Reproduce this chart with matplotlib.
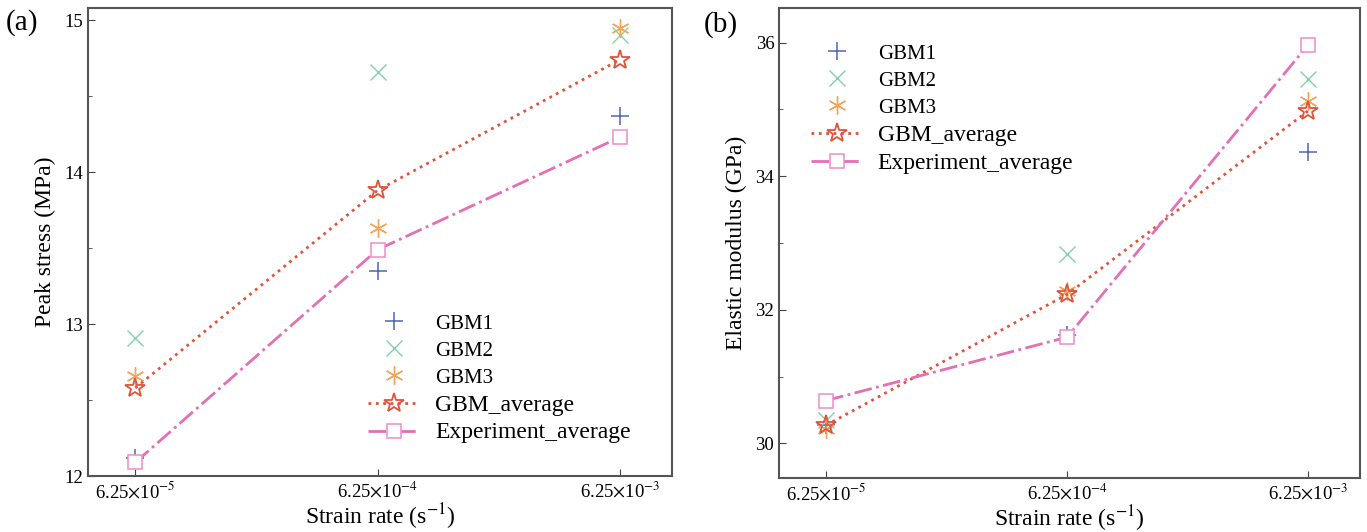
import numpy as np
import matplotlib.pyplot as plt
from matplotlib.ticker import FixedLocator, NullLocator, MultipleLocator

plt.rcParams['font.family'] = ['Liberation Serif', 'DejaVu Serif']
plt.rcParams['mathtext.fontset'] = 'stix'

# strain rates (s^-1)
rates = [6.25e-5, 6.25e-4, 6.25e-3]
rate_labels = [r'6.25$\times$10$^{-5}$', r'6.25$\times$10$^{-4}$', r'6.25$\times$10$^{-3}$']

# (a) peak stress, MPa
peak_gbm1 = [12.12, 13.35, 14.37]
peak_gbm2 = [12.91, 14.66, 14.90]
peak_gbm3 = [12.66, 13.63, 14.95]
peak_gbm_avg = [12.58, 13.88, 14.74]
peak_exp = [12.09, 13.49, 14.23]

# (b) elastic modulus, GPa
mod_gbm1 = [30.27, 31.62, 34.37]
mod_gbm2 = [30.35, 32.83, 35.46]
mod_gbm3 = [30.22, 32.28, 35.12]
mod_gbm_avg = [30.27, 32.23, 34.98]
mod_exp = [30.64, 31.59, 35.97]

c1 = '#5064b4'
c2 = '#80d2aa'
c3 = '#f5a55a'
c_avg = '#e0533a'
c_exp = '#e46fb4'


def draw(ax, g1, g2, g3, avg, exp):
    ax.plot(rates, g1, ls='none', marker='+', ms=13, mew=1.1, color=c1, label='GBM1')
    ax.plot(rates, g2, ls='none', marker='x', ms=11, mew=1.0, color=c2, label='GBM2')
    ax.plot(rates, g3, ls='none', marker=(6, 2, 0), ms=13, mew=1.0, color=c3, label='GBM3')
    ax.plot(rates, avg, ls=':', lw=2, marker='*', ms=15, mfc='none', mew=1.3,
            color=c_avg, label='GBM_average')
    ax.plot(rates, exp, ls='-.', lw=2, marker='s', ms=9.5, mfc='white', mew=1.1,
            mec='#ee8ccb', color=c_exp, label='Experiment_average')
    ax.set_xscale('log')
    ax.set_xlim(6.25e-5 / 10 ** 0.195, 6.25e-3 * 10 ** 0.215)
    ax.xaxis.set_major_locator(FixedLocator(rates))
    ax.xaxis.set_minor_locator(NullLocator())
    ax.set_xticklabels(rate_labels)
    ax.set_xlabel(r'Strain rate (s$^{-1}$)', fontsize=17, labelpad=0)
    ax.tick_params(which='both', direction='in', labelsize=13.5, color='#444444')
    ax.tick_params(which='major', length=5)
    ax.tick_params(which='minor', length=3)
    for s in ax.spines.values():
        s.set_linewidth(1.5)
        s.set_color('#555555')


def add_legend(ax, **kw):
    leg = ax.legend(frameon=False, fontsize=16, handlelength=2.3, handletextpad=0.7,
                    labelspacing=0.3, borderpad=0, borderaxespad=0, **kw)
    for t in leg.get_texts()[:3]:
        t.set_fontsize(15)
    for t in leg.get_texts()[3:]:
        t.set_fontsize(17)
    return leg


fig = plt.figure(figsize=(13.67, 5.32), dpi=100)

ax1 = fig.add_axes([0.0644, 0.105, 0.4272, 0.880])
draw(ax1, peak_gbm1, peak_gbm2, peak_gbm3, peak_gbm_avg, peak_exp)
ax1.set_ylim(12, 15.08)
ax1.yaxis.set_major_locator(MultipleLocator(1))
ax1.yaxis.set_minor_locator(MultipleLocator(0.5))
ax1.set_ylabel('Peak stress (MPa)', fontsize=17, labelpad=6)
add_legend(ax1, loc='lower left', bbox_to_anchor=(0.48, 0.07))
fig.text(0.004, 0.945, '(a)', fontsize=21)

ax2 = fig.add_axes([0.5699, 0.1015, 0.425, 0.8835])
draw(ax2, mod_gbm1, mod_gbm2, mod_gbm3, mod_gbm_avg, mod_exp)
ax2.set_ylim(29.48, 36.52)
ax2.yaxis.set_major_locator(MultipleLocator(2))
ax2.yaxis.set_minor_locator(MultipleLocator(1))
ax2.set_ylabel('Elastic modulus (GPa)', fontsize=17, labelpad=6)
add_legend(ax2, loc='upper left', bbox_to_anchor=(0.055, 0.925))
fig.text(0.515, 0.94, '(b)', fontsize=21)

fig.savefig('out.png', dpi=100)
